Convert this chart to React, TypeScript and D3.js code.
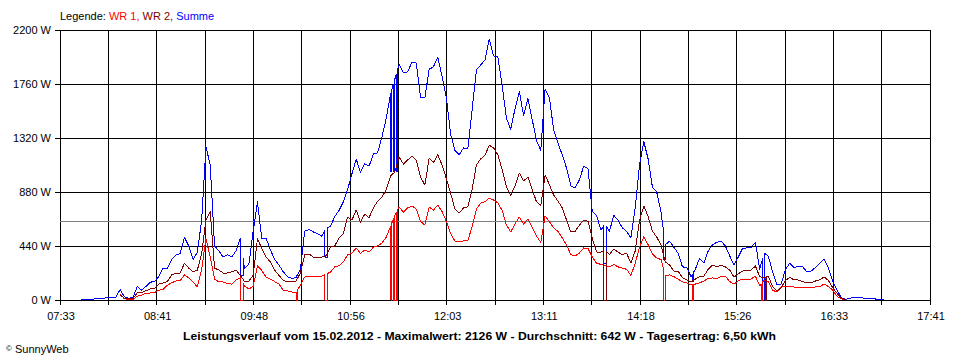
import * as d3 from "d3";

const width = 960;
const height = 360;

// axis range and labels as printed under the chart
const axisStart = "07:33";
const axisEnd = "17:41";
const xTickLabels = ["07:33", "08:41", "09:48", "10:56", "12:03", "13:11", "14:18", "15:26", "16:33", "17:41"];
const yTicks = [0, 440, 880, 1320, 1760, 2200];
const average = 642;

// readings every 3 minutes starting at 07:48 (W)
const startTime = "07:48";
const stepMinutes = 3;

const summe = [
  5, 5, 5, 8, 12, 12, 20, 20, 22, 85,
  25, 15, 20, 110, 80, 110, 145, 150, 190, 260,
  260, 330, 365, 380, 510, 440, 330, 390, 650, 1250,
  1100, 440, 400, 350, 370, 350, 400, 500, 255, 290,
  560, 800, 500, 505, 410, 330, 285, 230, 190, 175,
  185, 250, 560, 575, 555, 540, 520, 585, 600, 680,
  730, 800, 900, 1027, 1149, 1040, 1110, 1090, 1190, 1200,
  1330, 1480, 1680, 1800, 1918, 1850, 1860, 1940, 1930, 1650,
  1650, 1880, 1900, 1980, 1820, 1650, 1350, 1220, 1182, 1240,
  1230, 1550, 1874, 1915, 1955, 2126, 1990, 1980, 1750, 1480,
  1390, 1560, 1700, 1500, 1640, 1470, 1300, 1220, 1720, 1650,
  1385, 1280, 1182, 1075, 930, 913, 980, 1092, 1070, 720,
  690, 570, 620, 560, 690, 650, 587, 560, 505, 750,
  1100, 1290, 1150, 920, 880, 720, 450, 480, 430, 380,
  270, 265, 190, 250, 340, 300, 400, 450, 470, 480,
  440, 360, 285, 350, 420, 424, 430, 470, 250, 383,
  358, 228, 122, 130, 250, 300, 265, 275, 270, 230,
  236, 265, 300, 334, 260, 150, 81, 20, 5, 14,
  22, 22, 16, 16, 16, 8, 8, 8,
];

const wr2 = [
  null, null, null, null, null, null, null, null, null, 40,
  15, 10, 10, 60, 60, 75, 90, 90, 130, 138,
  150, 204, 220, 220, 300, 260, 230, 244, 380, 650,
  720, 260, 244, 220, 220, 230, 244, 200, 150, 155,
  200, 500, 420, 350, 310, 244, 200, 160, 147, 147,
  155, 220, 367, 375, 350, 350, 350, 360, 432, 440,
  505, 540, 676, 652, 733, 635, 700, 670, 750, 806,
  840, 900, 1010, 1043, 1165, 1108, 1141, 1173, 1140, 1000,
  937, 1157, 1120, 1182, 1100, 990, 870, 741, 709, 750,
  760, 900, 1100, 1149, 1182, 1260, 1240, 1182, 1060, 920,
  855, 930, 1035, 970, 1002, 900, 800, 770, 1018, 940,
  855, 806, 750, 652, 554, 560, 610, 652, 640, 500,
  391, 391, 407, 370, 415, 390, 370, 380, 300, 400,
  650, 766, 680, 562, 513, 450, 310, 285, 236, 236,
  180, 165, 147, 170, 190, 195, 250, 285, 270, 285,
  270, 244, 187, 212, 236, 240, 244, 277, 190, 180,
  195, 110, 73, 100, 160, 183, 165, 163, 150, 140,
  140, 155, 165, 187, 160, 100, 55, 15, 0, null,
  null, null, null, null, null, null, null, null,
];

const wr1 = [
  null, null, null, null, null, null, null, null, null, 50,
  10, 5, 5, 30, 40, 57, 57, 60, 80, 85,
  120, 140, 155, 160, 204, 180, 147, 106, 250, 500,
  350, 171, 147, 147, 135, 130, 163, 180, 114, 90,
  110, 280, 240, 187, 171, 150, 130, 81, 75, 65,
  65, 120, 187, 195, 195, 195, 195, 210, 228, 270,
  280, 310, 367, 383, 424, 380, 407, 390, 430, 440,
  464, 513, 600, 692, 758, 717, 750, 766, 740, 640,
  611, 758, 733, 774, 720, 640, 540, 481, 473, 481,
  481, 600, 740, 790, 800, 830, 815, 790, 730, 610,
  554, 620, 676, 619, 660, 590, 520, 470, 684, 640,
  587, 560, 505, 448, 370, 358, 383, 424, 420, 350,
  300, 290, 280, 270, 290, 270, 260, 250, 200, 300,
  430, 516, 450, 375, 342, 330, 200, 204, 190, 171,
  147, 140, 122, 130, 140, 155, 175, 180, 171, 195,
  195, 150, 130, 155, 171, 171, 171, 195, 114, 160,
  150, 80, 65, 106, 114, 114, 106, 100, 98, 98,
  98, 106, 110, 130, 110, 80, 30, 10, 0, null,
  null, null, null, null, null, null, null, null,
];

// short dropouts [from, to, W]
const wr1Outages: [string, string, number][] = [
  ["09:39", "09:41", 0], ["10:18", "10:19", 0], ["10:38", "10:40", 0],
  ["11:24", "11:25", 0], ["11:26", "11:27", 0], ["11:28", "11:29", 0],
  ["14:35", "14:36", 0], ["14:55", "14:56", 0], ["15:43", "15:44", 0],
];
const wr2Outages: [string, string, number][] = [
  ["13:53", "13:55", 0], ["15:46", "15:47", 0],
];
const summeDips: [string, string, number][] = [
  ["09:39", "09:41", 200], ["10:38", "10:40", 350],
  ["11:24", "11:25", 1045], ["11:26", "11:27", 1045], ["11:28", "11:29", 1045],
  ["13:53", "13:55", 300], ["14:35", "14:36", 330], ["14:55", "14:56", 150],
  ["15:44", "15:45", 0],
];

const title =
  "Leistungsverlauf vom 15.02.2012 - Maximalwert: 2126 W - Durchschnitt: 642 W - Tagesertrag: 6,50 kWh";

type Pt = { t: number; v: number | null; o: number };

const toMinutes = (s: string) => {
  const [h, m] = s.split(":").map(Number);
  return h * 60 + m;
};

// grid readings plus sharp-edged dropouts
function buildPoints(values: (number | null)[], outages: [string, string, number][]): Pt[] {
  const t0 = toMinutes(startTime);
  const at = (t: number) => {
    const i = Math.floor((t - t0) / stepMinutes);
    const a = values[i];
    const b = values[i + 1];
    if (a == null) return null;
    if (b == null) return a;
    return a + ((b - a) * (t - t0 - i * stepMinutes)) / stepMinutes;
  };
  let pts: Pt[] = values.map((v, i) => ({ t: t0 + i * stepMinutes, v, o: 0 }));
  for (const [s, e, v] of outages) {
    const ts = toMinutes(s);
    const te = toMinutes(e);
    const vs = at(ts);
    const ve = at(te);
    if (vs == null) continue;
    pts = pts.filter((p) => p.t < ts || p.t > te);
    pts.push({ t: ts, v: vs, o: 1 }, { t: ts, v, o: 2 }, { t: te, v, o: 3 }, { t: te, v: ve ?? v, o: 4 });
  }
  return pts.sort((a, b) => a.t - b.t || a.o - b.o);
}

const font = "'Liberation Sans', Arial, sans-serif";

export default function App() {
  const t0 = toMinutes(axisStart);
  const t1 = toMinutes(axisEnd);
  const x = d3.scaleLinear().domain([t0, t1]).range([60, 930]);
  const y = d3.scaleLinear().domain([0, 2200]).range([300, 30]);

  const line = d3
    .line<Pt>()
    .defined((d) => d.v != null)
    .x((d) => x(d.t))
    .y((d) => y(d.v as number));

  const series = [
    { color: "#0000ff", pts: buildPoints(summe, summeDips) },
    { color: "#ff0000", pts: buildPoints(wr1, wr1Outages) },
    { color: "#800000", pts: buildPoints(wr2, wr2Outages) },
  ];

  const majorStep = (t1 - t0) / (xTickLabels.length - 1);
  const gridTimes = d3.range((xTickLabels.length - 1) * 2 + 1).map((i) => t0 + (i * majorStep) / 2);

  return (
    <svg
      width={width}
      height={height}
      style={{ position: "absolute", left: 0, top: 0, background: "#fff" }}
      fontFamily={font}
      fontSize={11}
    >
      <text x={60} y={20}>
        <tspan fill="#000">Legende: </tspan>
        <tspan fill="#ff0000">WR 1,</tspan>
        <tspan fill="#800000"> WR 2,</tspan>
        <tspan fill="#0000ff"> Summe</tspan>
      </text>

      <g shapeRendering="crispEdges" stroke="#000">
        {gridTimes.map((t, i) => (
          <line key={i} x1={x(t)} x2={x(t)} y1={y(2200)} y2={y(0) + 5} />
        ))}
        {yTicks.map((v) => (
          <line key={v} x1={55} x2={930} y1={y(v)} y2={y(v)} />
        ))}
      </g>
      <line
        x1={60}
        x2={930}
        y1={y(average)}
        y2={y(average)}
        stroke="#808080"
        shapeRendering="crispEdges"
      />

      {series.map((s) => (
        <path
          key={s.color}
          d={line(s.pts) ?? ""}
          fill="none"
          stroke={s.color}
          strokeWidth={1}
          strokeLinejoin="round"
          shapeRendering="crispEdges"
        />
      ))}

      {yTicks.map((v) => (
        <text key={v} x={51} y={y(v) + 4} textAnchor="end">
          {v} W
        </text>
      ))}
      {xTickLabels.map((label, i) => (
        <text key={label} x={x(t0 + i * majorStep) + 1} y={320} textAnchor="middle">
          {label}
        </text>
      ))}

      <text x={479.5} y={340} textAnchor="middle" fontWeight="bold" textLength={593} lengthAdjust="spacingAndGlyphs">
        {title}
      </text>
      <text x={6} y={353}>
        <tspan fontSize={8} dy={-2}>©</tspan>
        <tspan dy={2}> SunnyWeb</tspan>
      </text>
    </svg>
  );
}
